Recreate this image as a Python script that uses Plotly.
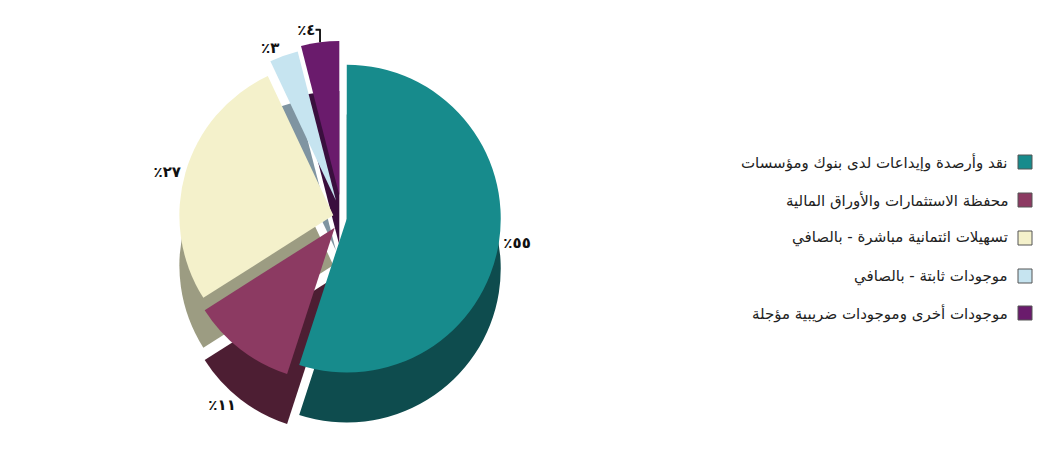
import plotly.graph_objects as go

# Asset distribution (percent)
categories = [
    "نقد وأرصدة وإيداعات لدى بنوك ومؤسسات",
    "محفظة الاستثمارات والأوراق المالية",
    "تسهيلات ائتمانية مباشرة - بالصافي",
    "موجودات ثابتة - بالصافي",
    "موجودات أخرى وموجودات ضريبية مؤجلة",
]
values = [55, 11, 27, 3, 4]
value_labels = ["٪٥٥", "٪١١", "٪٢٧", "٪٣", "٪٤"]

top_colors = ["#178b8c", "#8c3a62", "#f4f1cb", "#c6e4f0", "#6a1b6c"]
side_colors = ["#0e4c4e", "#4d1e33", "#9c9c82", "#7f94a1", "#3a0f3e"]
pulls = [0.03, 0.08, 0.06, 0.12, 0.15]

# the lower-facing slice is labelled below the extruded side,
# the others above the top face
bottom_labelled = [False, True, False, False, False]
side_text = [t if b else "" for t, b in zip(value_labels, bottom_labelled)]
top_text = [t if not b else "" for t, b in zip(value_labels, bottom_labelled)]

label_font = dict(family="DejaVu Sans", size=15, color="#111", weight="bold")

fig = go.Figure()

# extruded side of the pie (darker copy shifted down)
fig.add_trace(go.Pie(
    values=values,
    labels=categories,
    text=side_text,
    sort=False,
    direction="clockwise",
    rotation=0,
    pull=pulls,
    marker=dict(colors=side_colors, line=dict(color="white", width=0)),
    textinfo="text",
    textposition="outside",
    outsidetextfont=label_font,
    hoverinfo="skip",
    showlegend=False,
    domain=dict(x=[0.0, 0.66], y=[0.02, 0.8]),
))

# top face
fig.add_trace(go.Pie(
    values=values,
    labels=categories,
    text=top_text,
    sort=False,
    direction="clockwise",
    rotation=0,
    pull=pulls,
    marker=dict(colors=top_colors, line=dict(color="white", width=0)),
    textinfo="text",
    textposition="outside",
    outsidetextfont=label_font,
    showlegend=False,
    domain=dict(x=[0.0, 0.66], y=[0.13, 0.91]),
))

# right-to-left legend: text followed by a colour swatch on the right
legend_y = [162, 200, 238, 276, 313]
H = 454
W = 1037
for name, col, yp in zip(categories, top_colors, legend_y):
    yc = 1 - yp / H
    fig.add_shape(
        type="rect", xref="paper", yref="paper",
        x0=1018 / W, x1=1032 / W, y0=yc - 7 / H, y1=yc + 7 / H,
        fillcolor=col, line=dict(color="#555", width=1),
    )
    fig.add_annotation(
        x=1010 / W, y=yc, xref="paper", yref="paper",
        text=name, showarrow=False, xanchor="right", yanchor="middle",
        font=dict(family="DejaVu Sans", size=15, color="#222"),
    )

fig.update_layout(
    width=1037, height=454,
    margin=dict(l=0, r=0, t=0, b=0, autoexpand=False),
    showlegend=False,
    paper_bgcolor="white",
    plot_bgcolor="white",
)

fig.write_html("out.html")
